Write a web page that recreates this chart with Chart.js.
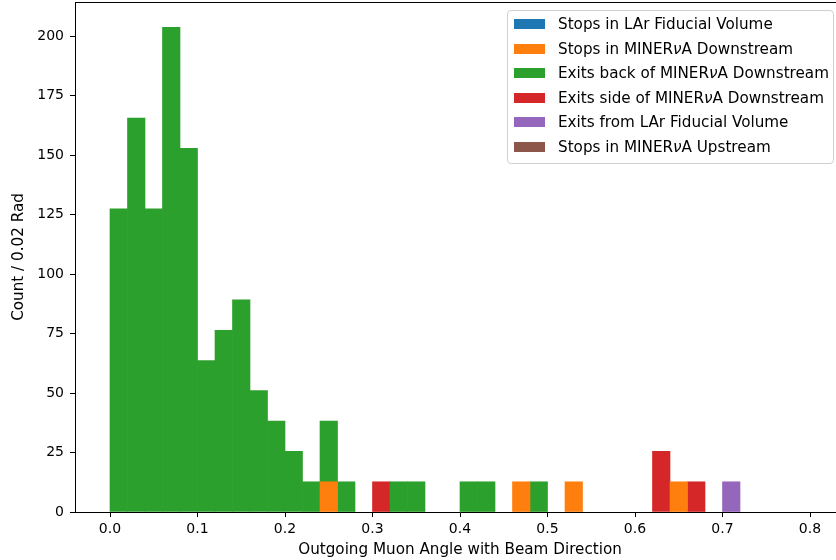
<!DOCTYPE html>
<html>
<head>
<meta charset="utf-8">
<script src="https://cdn.jsdelivr.net/npm/chart.js@4.4.1/dist/chart.umd.min.js"></script>
<style>
  body { margin: 0; overflow: hidden; background: #fff; font-family: "DejaVu Sans", sans-serif; }
  #wrap { position: relative; width: 836px; height: 560px; overflow: hidden; }
  #histo { position: absolute; left: 0; top: 0; }
  #legend { position: absolute; left: 507px; top: 10px; width: 325px; height: 152px;
            border: 1px solid #d0d0d0; border-radius: 4px; background: rgba(255,255,255,0.8); }
  .item { position: absolute; left: 6px; height: 20px; display: flex; align-items: center;
          font-size: 15.2px; color: #000; white-space: nowrap; }
  .sw { width: 31px; height: 10px; margin-right: 13px; }
</style>
</head>
<body>
<div id="wrap">
  <canvas id="histo" width="850" height="560"></canvas>
  <div id="legend"></div>
</div>
<script>
// bins are 0.02 rad wide, from 0.0 to 0.8 (40 bins, centres below)
const binCentres = [0.01, 0.03, 0.05, 0.07, 0.09, 0.11, 0.13, 0.15, 0.17, 0.19,
                    0.21, 0.23, 0.25, 0.27, 0.29, 0.31, 0.33, 0.35, 0.37, 0.39,
                    0.41, 0.43, 0.45, 0.47, 0.49, 0.51, 0.53, 0.55, 0.57, 0.59,
                    0.61, 0.63, 0.65, 0.67, 0.69, 0.71, 0.73, 0.75, 0.77, 0.79];

const categories = ['Stops in LAr Fiducial Volume', 'Stops in MINERνA Downstream',
                    'Exits back of MINERνA Downstream', 'Exits side of MINERνA Downstream',
                    'Exits from LAr Fiducial Volume', 'Stops in MINERνA Upstream'];
const colors = ['#1f77b4', '#ff7f0e', '#2ca02c', '#d62728', '#9467bd', '#8c564b'];

const stopsLAr     = [0,0,0,0,0,0,0,0,0,0, 0,0,0,0,0,0,0,0,0,0, 0,0,0,0,0,0,0,0,0,0, 0,0,0,0,0,0,0,0,0,0];
const stopsMinDown = [0,0,0,0,0,0,0,0,0,0, 0,0,12.7,0,0,0,0,0,0,0, 0,0,0,12.7,0,0,12.7,0,0,0, 0,0,12.7,0,0,0,0,0,0,0];
const exitsBack    = [127.4,165.6,127.4,203.8,152.9,63.7,76.4,89.2,51.0,38.2,
                      25.5,12.7,25.5,12.7,0,0,12.7,12.7,0,0, 12.7,12.7,0,0,12.7,0,0,0,0,0,
                      0,0,0,0,0,0,0,0,0,0];
const exitsSide    = [0,0,0,0,0,0,0,0,0,0, 0,0,0,0,0,12.7,0,0,0,0, 0,0,0,0,0,0,0,0,0,0, 0,25.5,0,12.7,0,0,0,0,0,0];
const exitsLAr     = [0,0,0,0,0,0,0,0,0,0, 0,0,0,0,0,0,0,0,0,0, 0,0,0,0,0,0,0,0,0,0, 0,0,0,0,0,12.7,0,0,0,0];
const stopsMinUp   = [0,0,0,0,0,0,0,0,0,0, 0,0,0,0,0,0,0,0,0,0, 0,0,0,0,0,0,0,0,0,0, 0,0,0,0,0,0,0,0,0,0];

const xTicks = [0.0, 0.1, 0.2, 0.3, 0.4, 0.5, 0.6, 0.7, 0.8];
const yTicks = [0, 25, 50, 75, 100, 125, 150, 175, 200];

const series = [stopsLAr, stopsMinDown, exitsBack, exitsSide, exitsLAr, stopsMinUp];
// empty bins are left out (null) so no zero-height slivers get drawn
const datasets = series.map((vals, i) => ({
    label: categories[i],
    data: vals.map((v, j) => ({ x: binCentres[j], y: v === 0 ? null : v })),
    backgroundColor: colors[i],
    borderWidth: 0,
    barPercentage: 1.0,
    categoryPercentage: 1.0
}));

const tickFont = { family: 'DejaVu Sans', size: 14 };
const titleFont = { family: 'DejaVu Sans', size: 15.2 };

// top and right spines
const frame = {
    id: 'frame',
    afterDraw(chart) {
        const a = chart.chartArea, c = chart.ctx;
        c.save();
        c.strokeStyle = '#000';
        c.lineWidth = 1;
        c.beginPath();
        c.moveTo(a.left, a.top + 0.5);
        c.lineTo(a.right, a.top + 0.5);
        c.moveTo(a.right - 0.5, a.top);
        c.lineTo(a.right - 0.5, a.bottom);
        c.stroke();
        c.restore();
    }
};

new Chart(document.getElementById('histo').getContext('2d'), {
    type: 'bar',
    data: { datasets: datasets },
    options: {
        responsive: false,
        animation: false,
        layout: { padding: { left: 0, top: 2, right: 5, bottom: 0 } },
        plugins: { legend: { display: false }, tooltip: { enabled: false } },
        scales: {
            x: {
                type: 'linear', stacked: true, offset: false,
                min: -0.04, max: 0.84,
                afterBuildTicks: s => { s.ticks = xTicks.map(v => ({ value: v })); },
                afterFit: s => { s.height = 48; s.paddingLeft = 0; s.paddingRight = 0; },
                ticks: { color: '#000', font: tickFont, padding: 4,
                         callback: v => v.toFixed(1), maxRotation: 0, autoSkip: false },
                grid: { drawOnChartArea: false, drawTicks: true, tickLength: 5, color: '#000', offset: false },
                border: { display: true, color: '#000' },
                title: { display: true, text: 'Outgoing Muon Angle with Beam Direction',
                         color: '#000', font: titleFont, padding: { top: 0, bottom: 1 } }
            },
            y: {
                stacked: true, min: 0, max: 214.4,
                afterBuildTicks: s => { s.ticks = yTicks.map(v => ({ value: v })); },
                afterFit: s => { s.width = 75; s.paddingTop = 0; s.paddingBottom = 0; },
                ticks: { color: '#000', font: tickFont, padding: 6 },
                grid: { drawOnChartArea: false, drawTicks: true, tickLength: 5, color: '#000' },
                border: { display: true, color: '#000' },
                title: { display: true, text: 'Count / 0.02 Rad',
                         color: '#000', font: titleFont, padding: { top: 10, bottom: 0 } }
            }
        }
    },
    plugins: [frame]
});

// legend inside the axes, upper right
const legend = document.getElementById('legend');
categories.forEach((name, i) => {
    const row = document.createElement('div');
    row.className = 'item';
    row.style.top = (3 + i * 24.6) + 'px';
    const sw = document.createElement('span');
    sw.className = 'sw';
    sw.style.background = colors[i];
    const txt = document.createElement('span');
    txt.innerHTML = name.replace('ν', '<i>ν</i>');
    row.appendChild(sw);
    row.appendChild(txt);
    legend.appendChild(row);
});
</script>
</body>
</html>
